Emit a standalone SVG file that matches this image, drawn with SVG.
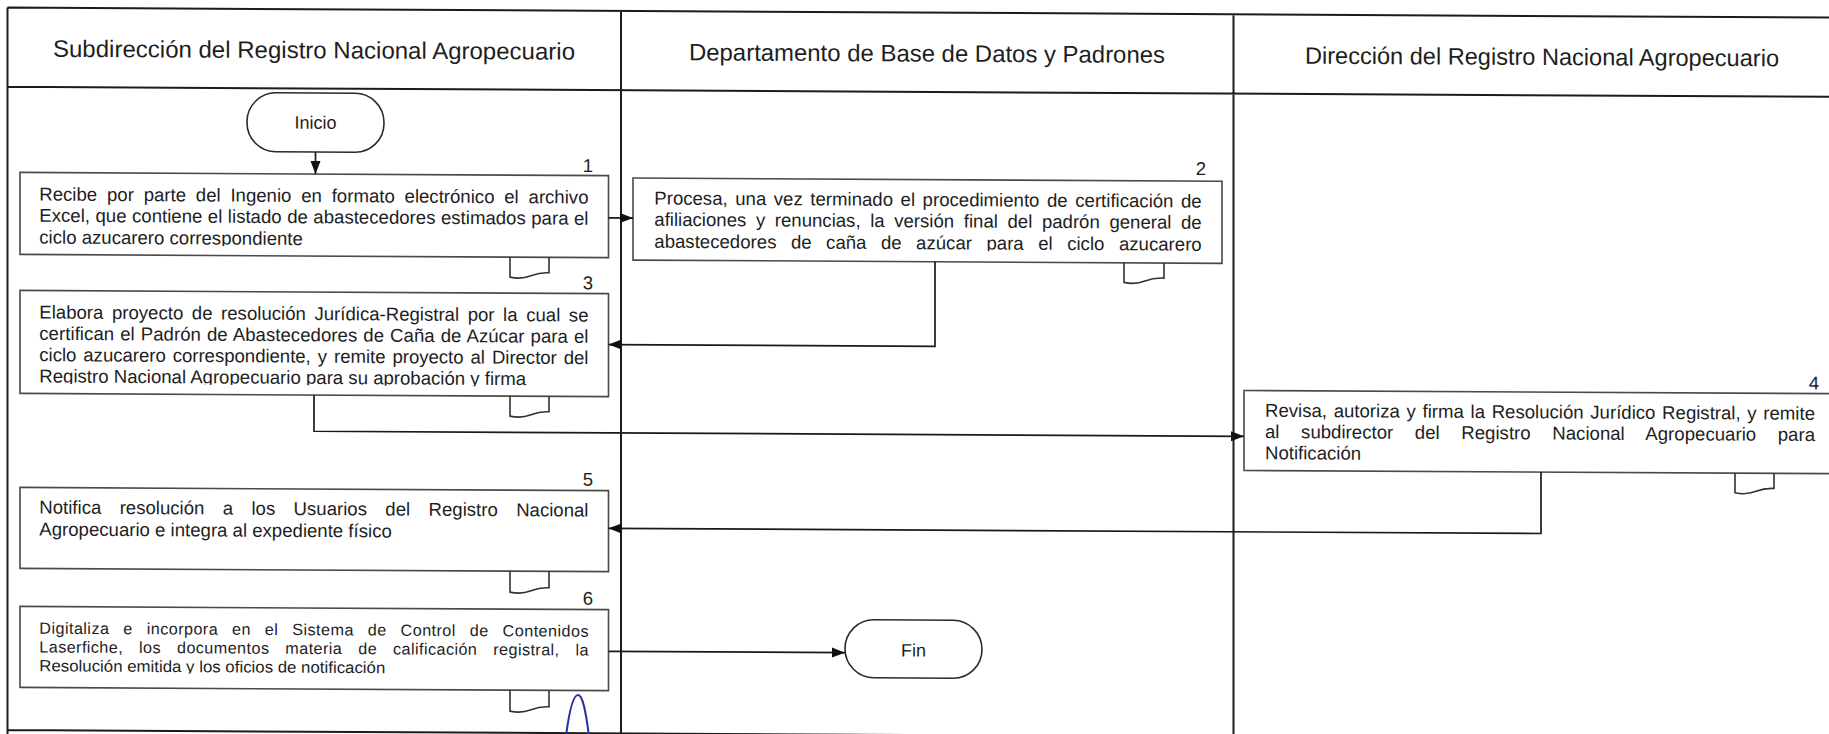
<svg xmlns="http://www.w3.org/2000/svg" width="1829" height="734" viewBox="0 0 1829 734">
<defs>
<style>
.lane{stroke:#1c1c1c;stroke-width:2;fill:none}
.box{fill:#fff;stroke:#4a4a4a;stroke-width:1.6}
.term{fill:#fff;stroke:#2a2a2a;stroke-width:1.6}
.doc{fill:none;stroke:#333;stroke-width:1.6}
.conn{fill:none;stroke:#1a1a1a;stroke-width:1.7}
text{font-family:"Liberation Sans",Arial,sans-serif;fill:#1e1e1e}
.hd{font-size:23.8px;text-anchor:middle}
.t{font-size:18.6px}
.t6{font-size:16.2px}
.num{font-size:18.6px;text-anchor:end}
.mid{font-size:18px;text-anchor:middle}
</style>
<marker id="arr" markerWidth="14" markerHeight="12" refX="13" refY="6" orient="auto" markerUnits="userSpaceOnUse"><path d="M0,1 L13,6 L0,11 z" fill="#111"/></marker>
<clipPath id="c1"><rect x="20" y="172" width="590" height="72.8"/></clipPath>
<clipPath id="c2"><rect x="633" y="174" width="590" height="71.6"/></clipPath>
<clipPath id="c3"><rect x="20" y="290" width="590" height="93.7"/></clipPath>
<clipPath id="c6"><rect x="20" y="606" width="590" height="66.6"/></clipPath>
</defs>
<rect width="1829" height="734" fill="#fff"/>
<g transform="matrix(1,0.0055,0,1,0,0)">
<g id="lanes">
<path class="lane" d="M7.5,7.5 H1840 M7.5,86.8 H1840 M7.5,7.5 V740 M621,7.5 V740 M1233.5,7.5 V740 M7.5,730 H1840"/>
<text class="hd" x="314" y="56.5" textLength="522" lengthAdjust="spacingAndGlyphs">Subdirección del Registro Nacional Agropecuario</text>
<text class="hd" x="927" y="56.5" textLength="476" lengthAdjust="spacingAndGlyphs">Departamento de Base de Datos y Padrones</text>
<text class="hd" x="1542" y="56.5" textLength="474" lengthAdjust="spacingAndGlyphs">Dirección del Registro Nacional Agropecuario</text>
</g>
<g id="inicio">
<rect class="term" x="247" y="91.3" width="137" height="59" rx="29" ry="29"/>
<text class="mid" x="315.5" y="127">Inicio</text>
</g>
<g id="step1">
<rect class="box" x="20" y="172.3" width="588.5" height="82"/>
<text class="num" x="593" y="168.8">1</text>
<g clip-path="url(#c1)">
<text class="t" x="39.3" y="200.3" word-spacing="4.62" textLength="549.2" lengthAdjust="spacing">Recibe por parte del Ingenio en formato electrónico el archivo</text>
<text class="t" x="39.3" y="221.5" word-spacing="0.29" textLength="549.2" lengthAdjust="spacing">Excel, que contiene el listado de abastecedores estimados para el</text>
<text class="t" x="39.3" y="243.3">ciclo azucarero correspondiente</text>
</g>
<path class="doc" d="M510,254.3 V274.3 Q521,276.8 531,272.8 Q540,269.3 549,269.8 V254.3"/>
</g>
<g id="step2">
<rect class="box" x="633" y="174.5" width="589" height="82.1"/>
<text class="num" x="1206" y="168.4">2</text>
<g clip-path="url(#c2)">
<text class="t" x="654.3" y="200.9" word-spacing="2.39" textLength="547.4" lengthAdjust="spacing">Procesa, una vez terminado el procedimiento de certificación de</text>
<text class="t" x="654.3" y="222.2" word-spacing="4.42" textLength="547.4" lengthAdjust="spacing">afiliaciones y renuncias, la versión final del padrón general de</text>
<text class="t" x="654.3" y="244.1" word-spacing="9.28" textLength="547.4" lengthAdjust="spacing">abastecedores de caña de azúcar para el ciclo azucarero</text>
</g>
<path class="doc" d="M1124,256.6 V276.2 Q1135,278.7 1145,274.7 Q1154,271.2 1164,271.7 V256.6"/>
</g>
<g id="step3">
<rect class="box" x="20" y="290.3" width="588.5" height="103"/>
<text class="num" x="593" y="286">3</text>
<g clip-path="url(#c3)">
<text class="t" x="39.3" y="318.3" word-spacing="3.4" textLength="549.2" lengthAdjust="spacing">Elabora proyecto de resolución Jurídica-Registral por la cual se</text>
<text class="t" x="39.3" y="339.6" word-spacing="0.78" textLength="549.2" lengthAdjust="spacing">certifican el Padrón de Abastecedores de Caña de Azúcar para el</text>
<text class="t" x="39.3" y="360.9" word-spacing="1.83" textLength="549.2" lengthAdjust="spacing">ciclo azucarero correspondiente, y remite proyecto al Director del</text>
<text class="t" x="39.3" y="382.2">Registro Nacional Agropecuario para su aprobación y firma</text>
</g>
<path class="doc" d="M510,393.3 V413.3 Q521,415.8 531,411.8 Q540,408.3 549,408.8 V393.3"/>
</g>
<g id="step4">
<rect class="box" x="1244" y="383.6" width="590" height="80"/>
<text class="num" x="1819" y="379.5">4</text>
<text class="t" x="1265" y="409.8" word-spacing="1.51" textLength="550" lengthAdjust="spacing">Revisa, autoriza y firma la Resolución Jurídico Registral, y remite</text>
<text class="t" x="1265" y="431" word-spacing="16.4" textLength="550" lengthAdjust="spacing">al subdirector del Registro Nacional Agropecuario para</text>
<text class="t" x="1265" y="452.2">Notificación</text>
<path class="doc" d="M1735,463.6 V483.2 Q1746,485.7 1756,481.7 Q1765,478.2 1774,478.7 V463.6"/>
</g>
<g id="step5">
<rect class="box" x="20" y="487.3" width="588.5" height="81"/>
<text class="num" x="593" y="482.5">5</text>
<text class="t" x="39.3" y="513.3" word-spacing="13.2" textLength="549.2" lengthAdjust="spacing">Notifica resolución a los Usuarios del Registro Nacional</text>
<text class="t" x="39.3" y="535.3">Agropecuario e integra al expediente físico</text>
<path class="doc" d="M510,568.3 V589.3 Q521,591.8 531,587.8 Q540,584.3 549,584.8 V568.3"/>
</g>
<g id="step6">
<rect class="box" x="20" y="606.3" width="588.5" height="81"/>
<text class="num" x="593" y="601.5">6</text>
<g clip-path="url(#c6)">
<text class="t6" x="39.3" y="633.5" word-spacing="9" textLength="549.2" lengthAdjust="spacing">Digitaliza e incorpora en el Sistema de Control de Contenidos</text>
<text class="t6" x="39.3" y="652.3" word-spacing="11" textLength="549.2" lengthAdjust="spacing">Laserfiche, los documentos materia de calificación registral, la</text>
<text class="t6" x="39.3" y="671.1" textLength="346" lengthAdjust="spacingAndGlyphs">Resolución emitida y los oficios de notificación</text>
</g>
<path class="doc" d="M510,687.3 V708.3 Q521,710.8 531,706.8 Q540,703.3 549,703.8 V687.3"/>
</g>
<g id="fin">
<rect class="term" x="845" y="615" width="137" height="58" rx="29" ry="29"/>
<text class="mid" x="913.5" y="651.5">Fin</text>
</g>
<g id="connectors">
<path class="conn" marker-end="url(#arr)" d="M315.5,150.3 V172.3"/>
<path class="conn" marker-end="url(#arr)" d="M608.5,214.6 H633"/>
<path class="conn" marker-end="url(#arr)" d="M935,256.6 V341.2 H608.5"/>
<path class="conn" marker-end="url(#arr)" d="M314,393.3 V429.5 H1244"/>
<path class="conn" marker-end="url(#arr)" d="M1541,463.6 V525 H608.5"/>
<path class="conn" marker-end="url(#arr)" d="M608.5,648 H845"/>
</g>
</g>
<path d="M566,736 C569,713 573,695 578,695 C583,695 586,713 589,736" fill="none" stroke="#2b2f9c" stroke-width="2"/>
</svg>
